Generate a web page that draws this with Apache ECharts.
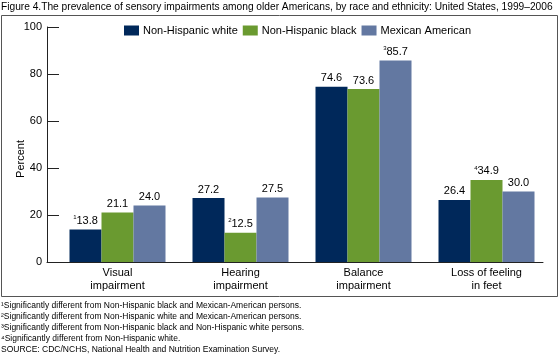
<!DOCTYPE html>
<html><head><meta charset="utf-8">
<script src="https://cdn.jsdelivr.net/npm/echarts@6/dist/echarts.min.js"></script>
<style>html,body{margin:0;padding:0;background:#fff}#c{width:560px;height:359px}</style>
</head><body><div id="c"></div>
<script>
var categories = ['Visual\nimpairment', 'Hearing\nimpairment', 'Balance\nimpairment', 'Loss of feeling\nin feet'];
var seriesNames = ['Non-Hispanic white', 'Non-Hispanic black', 'Mexican American'];
var whiteValues = [13.8, 27.2, 74.6, 26.4];
var blackValues = [21.1, 12.5, 73.6, 34.9];
var mexicanValues = [24.0, 27.5, 85.7, 30.0];
var whiteNotes = ['1', '', '', ''];
var blackNotes = ['', '2', '', '4'];
var mexicanNotes = ['', '', '3', ''];
var yTicks = [0, 20, 40, 60, 80, 100];
var titleText = 'Figure 4.The prevalence of sensory impairments among older Americans, by race and ethnicity: United States, 1999\u20132006';
var footnotes = [
  '\u00b9Significantly different from Non-Hispanic black and Mexican-American persons.',
  '\u00b2Significantly different from Non-Hispanic white and Mexican-American persons.',
  '\u00b3Significantly different from Non-Hispanic black and Non-Hispanic white persons.',
  '\u2074Significantly different from Non-Hispanic white.',
  'SOURCE: CDC/NCHS, National Health and Nutrition Examination Survey.'
];
var colors = ['#00285a', '#6a9a30', '#6378a1'];
var FONT = 'Liberation Sans, Arial, sans-serif';

function makeSeries(name, vals, notes, color) {
  return {
    name: name, type: 'bar', barWidth: 32, barGap: '0%',
    xAxisIndex: 0, yAxisIndex: 0,
    itemStyle: { color: color },
    data: vals.map(function (v, i) { return { value: v, note: notes[i] }; }),
    label: {
      show: true, position: 'top', distance: 3,
      formatter: function (p) {
        var n = p.data.note;
        return (n ? '{s|' + n + '}' : '') + '{v|' + p.value.toFixed(1) + '}';
      },
      rich: {
        v: { fontFamily: FONT, fontSize: 11, color: '#000' },
        s: { fontFamily: FONT, fontSize: 6, color: '#000', verticalAlign: 'top', padding: [0, 0, 6, 0] }
      }
    }
  };
}

var chart = echarts.init(document.getElementById('c'), null, { renderer: 'canvas' });
var graphics = [
  { type: 'rect', shape: { x: 1.5, y: 15.5, width: 556, height: 281 }, style: { fill: 'none', stroke: '#555', lineWidth: 1 }, silent: true },
  { type: 'text', left: 1, top: 2, style: { text: titleText, font: '10.2px ' + FONT, fill: '#000' } },
  { type: 'text', left: 15, top: 140, rotation: Math.PI / 2, style: { text: 'Percent', font: '11px ' + FONT, fill: '#000', textAlign: 'center', textVerticalAlign: 'middle' } }
];
footnotes.forEach(function (t, i) {
  graphics.push({ type: 'text', left: 1, top: 301 + i * 11, style: { text: t, font: '8.5px ' + FONT, fill: '#000' } });
});

chart.setOption({
  animation: false,
  textStyle: { fontFamily: FONT },
  legend: {
    data: seriesNames, left: 124, top: 25, padding: 0, itemWidth: 15, itemHeight: 10, itemGap: 5,
    icon: 'rect', textStyle: { fontSize: 11, color: '#000', fontFamily: FONT, padding: [0, 0, 0, -1] }
  },
  grid: [
    { left: 56, right: 12, top: 27, bottom: 97 },
    { left: 47, right: 17, top: 27, bottom: 97 }
  ],
  xAxis: [
    { type: 'category', gridIndex: 0, data: categories, axisLine: { show: false }, axisTick: { show: false },
      axisLabel: { fontSize: 11, color: '#000', fontFamily: FONT, margin: 5, lineHeight: 12.5 } },
    { type: 'value', gridIndex: 1, min: 0, max: 1, axisLine: { show: true, lineStyle: { color: '#222', width: 1 } },
      axisTick: { show: false }, axisLabel: { show: false }, splitLine: { show: false } }
  ],
  yAxis: [
    { type: 'value', gridIndex: 0, min: yTicks[0], max: yTicks[yTicks.length - 1], interval: 20, offset: 9,
      axisLine: { show: true, lineStyle: { color: '#222', width: 1 } },
      axisTick: { show: true, inside: true, length: 12, lineStyle: { color: '#222' } },
      axisLabel: { fontSize: 11, color: '#000', fontFamily: FONT, margin: 5 },
      splitLine: { show: false } },
    { type: 'value', gridIndex: 1, show: false, min: 0, max: 1 }
  ],
  series: [
    makeSeries(seriesNames[0], whiteValues, whiteNotes, colors[0]),
    makeSeries(seriesNames[1], blackValues, blackNotes, colors[1]),
    makeSeries(seriesNames[2], mexicanValues, mexicanNotes, colors[2])
  ],
  graphic: graphics
});
</script></body></html>
